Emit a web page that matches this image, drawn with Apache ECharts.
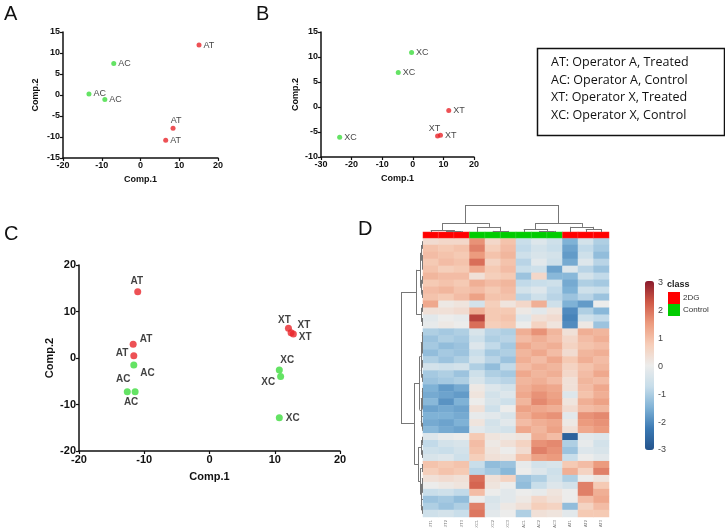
<!DOCTYPE html>
<html><head><meta charset="utf-8">
<script src="https://cdn.jsdelivr.net/npm/echarts/dist/echarts.min.js"></script>
<style>html,body{margin:0;padding:0;background:#fff}#c{width:725px;height:531px}</style>
</head><body><div id="c"></div><script>
// ---------- Panel A ----------
const aX = [15.1, 8.4, 6.5, -6.9, -13.3, -9.2];
const aY = [11.9, -7.9, -10.8, 7.5, 0.25, -1.05];
const aLab = ['AT','AT','AT','AC','AC','AC'];
// ---------- Panel B ----------
const bX = [11.75, 8.1, 9.05, -0.4, -4.75, -23.9];
const bY = [-0.7, -5.8, -5.65, 10.9, 6.9, -6.05];
const bLab = ['XT','XT','XT','XC','XC','XC'];
// ---------- Panel C ----------
const cX = [-11.0, -11.7, -11.6, -11.6, -12.6, -11.4, 12.1, 12.5, 12.85, 10.7, 10.9, 10.7];
const cY = [14.25, 2.95, 0.5, -1.5, -7.25, -7.25, 6.4, 5.45, 5.15, -2.6, -4.0, -12.85];
const cLab = ['AT','AT','AT','AC','AC','AC','XT','XT','XT','XC','XC','XC'];
// ---------- Panel D heatmap ----------
const hmCols = ['XT1','XT2','XT3','XC1','XC2','XC3','AC1','AC2','AC3','AT1','AT2','AT3'];
const hmClass = ['2DG','2DG','2DG','Control','Control','Control','Control','Control','Control','2DG','2DG','2DG'];
const hmRows = [
[0.4,0.5,0.5,1.6,0.5,0.9,-0.7,-0.3,-0.6,-1.5,-0.5,-1.0],
[0.9,0.8,0.9,1.8,0.7,1.0,-0.8,-0.5,-0.7,-1.7,-0.8,-1.1],
[1.0,0.9,0.8,1.5,0.9,1.1,-0.6,-0.4,-0.5,-1.8,-0.6,-1.3],
[0.8,1.0,0.9,2.0,0.6,0.9,-0.9,-0.2,-0.6,-1.6,-0.3,-0.9],
[0.9,0.7,0.8,1.3,0.8,1.0,-0.7,-0.6,-1.7,-0.3,-0.9,-1.2],
[1.1,1.0,1.0,0.3,0.7,0.8,-1.2,0.5,-1.4,-1.4,-0.5,-0.8],
[0.8,0.9,0.8,1.2,1.0,1.1,-0.8,-0.7,-0.6,-1.6,-1.0,-1.1],
[1.0,1.1,0.9,1.0,0.8,1.0,-0.5,-0.3,-0.8,-1.5,-0.6,-0.7],
[0.9,0.8,1.0,1.4,0.9,0.9,-0.9,-0.6,-0.9,-1.2,-0.9,-1.2],
[1.3,0.1,0.2,-0.5,0.7,0.2,0.5,1.2,-0.6,-1.5,-1.8,0.0],
[0.3,0.3,0.4,1.2,0.8,0.8,0.1,-0.2,0.2,-2.0,-1.0,-1.4],
[-0.2,0.0,-0.1,2.5,0.8,0.9,-0.3,0.3,0.4,-2.1,-0.6,-0.8],
[-0.1,0.1,0.0,2.0,0.7,0.8,0.0,0.6,0.2,-2.0,0.1,-1.2],
[-1.0,-1.1,-1.0,-0.4,-0.9,-1.0,1.2,1.6,1.1,0.3,1.2,1.1],
[-1.2,-1.0,-1.1,-0.6,-1.0,-0.9,1.0,1.2,1.0,0.5,1.0,1.2],
[-1.1,-1.3,-1.2,-0.3,-0.8,-1.1,1.3,1.1,1.2,0.6,0.9,1.0],
[-1.3,-1.1,-1.2,-0.7,-1.1,-1.0,1.1,1.3,1.0,0.4,1.1,1.2],
[-1.0,-1.2,-1.0,-0.5,-0.9,-1.2,1.2,1.0,1.3,0.8,1.2,1.0],
[-0.5,-0.6,-0.5,-1.0,-1.3,-0.8,1.0,1.2,1.1,0.6,0.9,1.1],
[-1.1,-1.0,-1.2,-0.6,-1.0,-1.1,1.3,1.1,1.2,0.5,1.0,1.3],
[-1.2,-1.1,-1.0,-0.4,-0.8,-0.9,1.1,1.2,1.0,0.3,1.1,1.0],
[-1.5,-1.8,-1.6,0.1,-0.3,-0.5,1.2,1.4,1.3,0.3,1.0,1.3],
[-1.6,-1.7,-1.8,0.2,-0.5,-0.3,1.3,1.6,1.4,-0.3,0.9,1.2],
[-1.4,-1.9,-1.5,0.0,-0.4,-0.6,1.1,1.7,1.5,0.2,1.2,1.4],
[-1.7,-1.6,-1.7,0.3,-0.6,0.0,1.4,1.3,1.2,0.4,1.0,1.1],
[-1.5,-1.5,-1.6,-0.1,-0.2,-0.4,1.2,1.5,1.6,-0.2,1.6,1.7],
[-1.6,-1.7,-1.5,0.2,-0.5,-0.2,1.0,1.2,1.3,0.1,1.5,1.6],
[-1.4,-1.6,-1.7,-0.2,-0.4,-0.5,1.3,1.1,1.4,0.3,1.3,1.5],
[-0.3,-0.1,0.0,0.8,0.2,0.1,0.2,1.2,1.0,-2.7,-0.2,-0.3],
[-0.8,-0.5,-0.4,1.0,0.1,0.3,0.6,1.6,1.7,-1.0,-0.1,-0.5],
[-0.6,-0.7,-0.5,0.9,0.2,0.0,0.4,1.8,1.6,-1.2,-0.3,-0.4],
[-0.4,-0.3,-0.6,0.7,0.3,0.2,0.9,1.4,1.5,-0.7,0.0,-0.2],
[0.9,0.8,0.9,-0.7,-1.3,-1.2,-0.1,-0.5,-0.4,0.8,1.0,1.5],
[0.7,0.9,0.8,-0.9,-1.1,-1.4,0.0,-0.3,-0.6,1.2,0.6,1.8],
[0.3,0.4,0.3,2.0,0.3,0.6,-1.2,-1.0,-0.5,-1.0,0.0,0.2],
[0.0,0.1,0.2,2.1,0.2,0.0,-1.3,-0.7,-0.3,-0.5,1.8,0.8],
[-0.7,-0.6,-0.8,1.0,0.0,-0.2,0.0,-0.1,0.2,0.0,1.8,1.2],
[-1.2,-1.1,-1.3,0.0,-0.4,-0.2,0.1,0.5,0.3,0.0,1.0,1.3],
[-1.0,-1.2,-1.0,1.8,-0.3,0.1,0.3,0.7,0.6,-1.3,0.6,1.0],
[-0.6,-0.5,-0.7,1.9,-0.2,0.0,-1.0,0.3,0.2,-0.2,0.8,0.8]
];
// dendrograms: node = [height, left, right], leaf = index
const colTree = [1.0,
  [0.33, [0.07, 0, [0.03, 1, 2]], [0.19, 3, [0.04, 4, 5]]],
  [0.33, [0.11, 6, [0.04, 7, 8]], [0.19, 9, [0.11, 10, 11]]]];
const rowTree = [1.0,
  [0.3,
    [0.12, [0.06, [0.03, 0, 1], [0.04, 2, [0.02, 3, 4]]], [0.07, [0.03, 5, 6], [0.04, 7, 8]]],
    [0.08, [0.04, 9, 10], [0.05, 11, 12]]],
  [0.4,
    [0.15,
      [0.1, [0.05, [0.03, 13, 14], [0.02, 15, 16]], [0.06, [0.03, 17, 18], [0.04, 19, 20]]],
      [0.1, [0.05, [0.03, 21, 22], [0.02, 23, 24]], [0.06, 25, [0.03, 26, 27]]]],
    [0.22,
      [0.08, [0.04, 28, 29], [0.03, 30, 31]],
      [0.12, [0.05, 32, 33], [0.1, [0.05, 34, [0.03, 35, 36]], [0.06, 37, [0.03, 38, 39]]]]]]];
const legendLines = ['AT: Operator A, Treated','AC: Operator A, Control','XT: Operator X, Treated','XC: Operator X, Control'];
const colorTicks = [-3, 3, 1];

// ---------- label placements (style) ----------
const aLbl = [['right',[0,0]],['top',[3,1]],['right',[0,0]],['right',[0,0]],['right',[0,0]],['right',[0,0]]];
const bLbl = [['right',[0,0]],['top',[-3,2]],['right',[0,0]],['right',[0,0]],['right',[0,0]],['right',[0,0]]];
const cLbl = [['top',[-1,0]],['right',[1,-5]],['left',[0,-2]],['right',[1,8]],['top',[-4,-2]],['bottom',[-4,0]],
              ['top',[-4,3]],['right',[1,-7]],['right',[0,3]],['top',[8,1]],['left',[0,6]],['right',[1,0]]];

const RED = '#e8262b', GREEN = '#3ddc3d';
function pts(xs, ys, labs, lbl, bold, fs) {
  return xs.map((x, i) => ({
    value: [x, ys[i]],
    itemStyle: { color: labs[i][1] === 'T' ? RED : GREEN },
    label: { show: true, formatter: labs[i], position: lbl[i][0], offset: lbl[i][1], distance: 2,
      fontSize: fs, fontWeight: bold ? 'bold' : 'normal', color: '#111', fontFamily: 'Liberation Sans' }
  }));
}
function segs(tree, leafPos, horizontal) {
  const out = [];
  function walk(n) {
    if (typeof n === 'number') return { p: leafPos(n), h: 0 };
    const l = walk(n[1]), r = walk(n[2]);
    const h = n[0];
    const p = (l.p + r.p) / 2;
    const mk = (p1, h1, p2, h2) => horizontal ? [[h1, p1], [h2, p2]] : [[p1, h1], [p2, h2]];
    out.push({ coords: mk(l.p, l.h, l.p, h) });
    out.push({ coords: mk(r.p, r.h, r.p, h) });
    out.push({ coords: mk(l.p, h, r.p, h) });
    return { p, h };
  }
  walk(tree);
  return out;
}
const hmData = [];
hmRows.forEach((row, r) => row.forEach((v, c) => hmData.push([c, r, v])));
const classData = hmClass.map((k, i) => [i, 0, k === '2DG' ? 1 : 0]);

function scatterAxis(grid, min, max, interval, name, gap, fs) {
  return {
    gridIndex: grid, type: 'value', min, max, interval, name, nameLocation: 'middle', nameGap: gap,
    nameTextStyle: { fontWeight: 'bold', fontSize: fs, color: '#111', fontFamily: 'Liberation Sans' },
    axisLine: { onZero: false, lineStyle: { color: '#111', width: 1.5 } },
    axisTick: { length: 3, lineStyle: { color: '#111', width: 1.2 } },
    axisLabel: { fontWeight: 'bold', fontSize: fs, color: '#111', margin: 3, fontFamily: 'Liberation Sans' },
    splitLine: { show: false }
  };
}
const hidden = (grid, extra) => Object.assign({ gridIndex: grid, show: false, splitLine: { show: false } }, extra);

const option = {
  animation: false,
  backgroundColor: '#fff',
  grid: [
    { left: 63, top: 32, width: 155, height: 126 },
    { left: 321, top: 32, width: 153, height: 125 },
    { left: 79, top: 265, width: 261, height: 186 },
    { left: 423, top: 238, width: 186, height: 279 },
    { left: 423, top: 232, width: 186, height: 6 },
    { left: 423, top: 205, width: 186, height: 27 },
    { left: 401, top: 238, width: 22, height: 279 },
    { left: 644, top: 283, width: 9, height: 167 }
  ],
  xAxis: [
    scatterAxis(0, -20, 20, 10, 'Comp.1', 17, 9),
    scatterAxis(1, -30, 20, 10, 'Comp.1', 17, 9),
    scatterAxis(2, -20, 20, 10, 'Comp.1', 20, 11),
    { gridIndex: 3, type: 'category', data: hmCols, axisLine: { show: false }, axisTick: { show: false },
      axisLabel: { rotate: 90, fontSize: 4, color: '#777', interval: 0, margin: 3 } },
    hidden(4, { type: 'category', data: hmCols }),
    hidden(5, { type: 'value', min: 0, max: 12 }),
    hidden(6, { type: 'value', min: 0, max: 1, inverse: true }),
    hidden(7, { type: 'value', min: 0, max: 1 })
  ],
  yAxis: [
    scatterAxis(0, -15, 15, 5, 'Comp.2', 23, 9),
    scatterAxis(1, -10, 15, 5, 'Comp.2', 21, 9),
    scatterAxis(2, -20, 20, 10, 'Comp.2', 24, 11),
    hidden(3, { type: 'category', data: hmRows.map((_, i) => 'r' + i), inverse: true }),
    hidden(4, { type: 'category', data: ['class'] }),
    hidden(5, { type: 'value', min: 0, max: 1 }),
    hidden(6, { type: 'value', min: 0, max: hmRows.length, inverse: true }),
    { gridIndex: 7, type: 'value', min: colorTicks[0], max: colorTicks[1], interval: colorTicks[2], position: 'right',
      axisLine: { show: false }, axisTick: { show: false }, splitLine: { show: false },
      axisLabel: { fontSize: 9, color: '#444', margin: 5, fontFamily: 'Liberation Sans' } }
  ],
  visualMap: [
    { type: 'continuous', seriesIndex: 3, min: -3, max: 3, calculable: false, hoverLink: false,
      left: 630, top: 266, itemWidth: 9, itemHeight: 169, text: null, showLabel: false,
      inRange: { color: ['#24538c','#3a78b3','#7fb2d6','#c7ddea','#ececeb','#f6cdb8','#ec9b7e','#cf5846','#8a1a2c'] } },
    { type: 'piecewise', seriesIndex: 4, orient: 'vertical', left: 653, top: 277, itemWidth: 12, itemHeight: 12,
      itemGap: 0, itemSymbol: 'rect', textGap: 3, hoverLink: false, selectedMode: false, align: 'left',
      textStyle: { fontSize: 8, color: '#333', fontFamily: 'Liberation Sans' },
      pieces: [{ value: 0, label: 'Control', color: '#00cc00' }, { value: 1, label: '2DG', color: '#ff0000' }] }
  ],
  series: [
    { type: 'scatter', xAxisIndex: 0, yAxisIndex: 0, symbolSize: 5, data: pts(aX, aY, aLab, aLbl, false, 9) },
    { type: 'scatter', xAxisIndex: 1, yAxisIndex: 1, symbolSize: 5, data: pts(bX, bY, bLab, bLbl, false, 9) },
    { type: 'scatter', xAxisIndex: 2, yAxisIndex: 2, symbolSize: 7, data: pts(cX, cY, cLab, cLbl, true, 10) },
    { type: 'heatmap', xAxisIndex: 3, yAxisIndex: 3, data: hmData, progressive: 0 },
    { type: 'heatmap', xAxisIndex: 4, yAxisIndex: 4, data: classData,
      itemStyle: { borderColor: 'rgba(255,255,255,0.25)', borderWidth: 0.5 } },
    { type: 'lines', coordinateSystem: 'cartesian2d', xAxisIndex: 5, yAxisIndex: 5, silent: true,
      lineStyle: { color: '#777', width: 1, opacity: 1 }, data: segs(colTree, i => i + 0.5, false) },
    { type: 'lines', coordinateSystem: 'cartesian2d', xAxisIndex: 6, yAxisIndex: 6, silent: true,
      lineStyle: { color: '#777', width: 1, opacity: 1 }, data: segs(rowTree, i => i + 0.5, true) }
  ],
  graphic: [
    { type: 'text', left: 4, top: 4, style: { text: 'A', fontSize: 20, fill: '#111', fontFamily: 'Liberation Sans' } },
    { type: 'text', left: 256, top: 4, style: { text: 'B', fontSize: 20, fill: '#111', fontFamily: 'Liberation Sans' } },
    { type: 'text', left: 4, top: 224, style: { text: 'C', fontSize: 20, fill: '#111', fontFamily: 'Liberation Sans' } },
    { type: 'text', left: 358, top: 219, style: { text: 'D', fontSize: 20, fill: '#111', fontFamily: 'Liberation Sans' } },
    { type: 'text', left: 667, top: 280, style: { text: 'class', fontSize: 9, fontWeight: 'bold', fill: '#222', fontFamily: 'Liberation Sans' } },
    { type: 'rect', left: 535, top: 46, shape: { width: 187, height: 87 }, style: { fill: 'none', stroke: '#111', lineWidth: 1.5 } }
  ].concat(legendLines.map((t, i) => ({ type: 'text', left: 551, top: 56 + i * 17.7,
      style: { text: t, fontSize: 12.5, fill: '#111', fontFamily: 'Open Sans' } })))
};
const chart = echarts.init(document.getElementById('c'), null, { renderer: 'canvas' });
chart.setOption(option);
</script></body></html>
